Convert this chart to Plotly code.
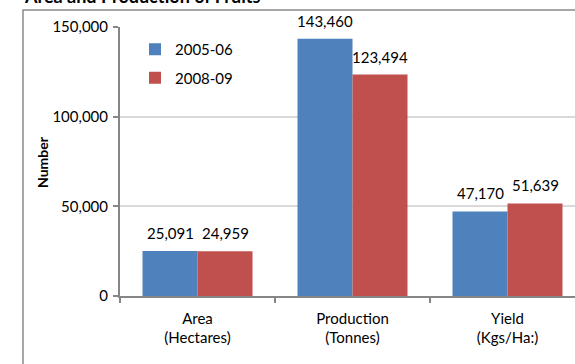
import plotly.graph_objects as go

# Fruit statistics by measure, for two seasons
categories = ["Area<br>(Hectares)", "Production<br>(Tonnes)", "Yield<br>(Kgs/Ha:)"]
season_a = "2005-06"
season_b = "2008-09"
values_a = [25091, 143460, 47170]
values_b = [24959, 123494, 51639]
y_ticks = [0, 50000, 100000, 150000]

W, H = 575, 364
L, R, T, B = 120, 0, 27, 68
pw, ph = W - L - R, H - T - B
CAT_PX = 155          # width of one category slot in pixels
BAR_PX = 55           # width of one bar in pixels


def px_x(x):
    return (x - L) / pw


def px_y(y):
    return (H - B - y) / ph


FONT = "Lato, 'Open Sans', sans-serif"
FS = 15
BLUE = "#4F81BD"
RED = "#C0504D"

fig = go.Figure()
annotations = []
for name, vals, col, grp, shift in [(season_a, values_a, BLUE, "a", -BAR_PX / 2),
                                    (season_b, values_b, RED, "b", BAR_PX / 2)]:
    fig.add_trace(go.Bar(
        x=categories, y=vals, name=name, legendgroup=grp,
        marker=dict(color=col, line=dict(width=0)),
    ))
    # value labels sitting above each bar
    for c, v in zip(categories, vals):
        annotations.append(dict(
            x=c, y=v, xref="x", yref="y", text=f"{v:,}", showarrow=False,
            xshift=shift, yshift=18, xanchor="center", yanchor="middle",
            font=dict(family=FONT, size=FS, color="#000"),
        ))

annotations += [
    dict(text="<b>Area and Production of Fruits</b>", xref="paper", yref="paper",
         x=px_x(22), y=px_y(-4), xanchor="left", yanchor="middle",
         showarrow=False, font=dict(size=18, family=FONT, color="#000")),
    dict(text="<b>Number</b>", xref="paper", yref="paper",
         x=px_x(42), y=px_y(162), xanchor="center", yanchor="middle",
         textangle=-90, showarrow=False, font=dict(size=14, family=FONT, color="#000")),
]

fig.update_layout(
    width=W, height=H,
    margin=dict(l=L, r=R, t=T, b=B),
    paper_bgcolor="white", plot_bgcolor="white",
    font=dict(family=FONT, size=FS, color="#000"),
    barmode="group", bargap=1 - 2 * BAR_PX / CAT_PX, bargroupgap=0,
    showlegend=True,
    legend=dict(x=px_x(135), y=px_y(33), xanchor="left", yanchor="top",
                bgcolor="rgba(0,0,0,0)", font=dict(size=FS, family=FONT),
                traceorder="grouped", tracegroupgap=6),
    xaxis=dict(range=[-0.5, -0.5 + pw / CAT_PX], showline=True, linecolor="#868686",
               linewidth=1.5, ticks="outside", tickson="boundaries", ticklen=5,
               tickcolor="#868686", tickwidth=1.5, showgrid=False,
               ticklabelstandoff=8, tickfont=dict(size=FS, family=FONT)),
    yaxis=dict(range=[0, 150000], tickvals=y_ticks, tickformat=",d",
               showline=True, linecolor="#868686", linewidth=2,
               ticks="outside", ticklen=5, tickcolor="#868686", tickwidth=1.5,
               showgrid=True, gridcolor="#D9D9D9", gridwidth=2,
               zeroline=False, ticklabelstandoff=2, tickfont=dict(size=FS, family=FONT)),
    shapes=[dict(type="rect", xref="paper", yref="paper",
                 x0=px_x(23), x1=px_x(620), y0=px_y(400), y1=px_y(10),
                 line=dict(color="#8A8A8A", width=1.5), fillcolor="rgba(0,0,0,0)",
                 layer="below")],
    annotations=annotations,
)

fig.write_html("out.html")
